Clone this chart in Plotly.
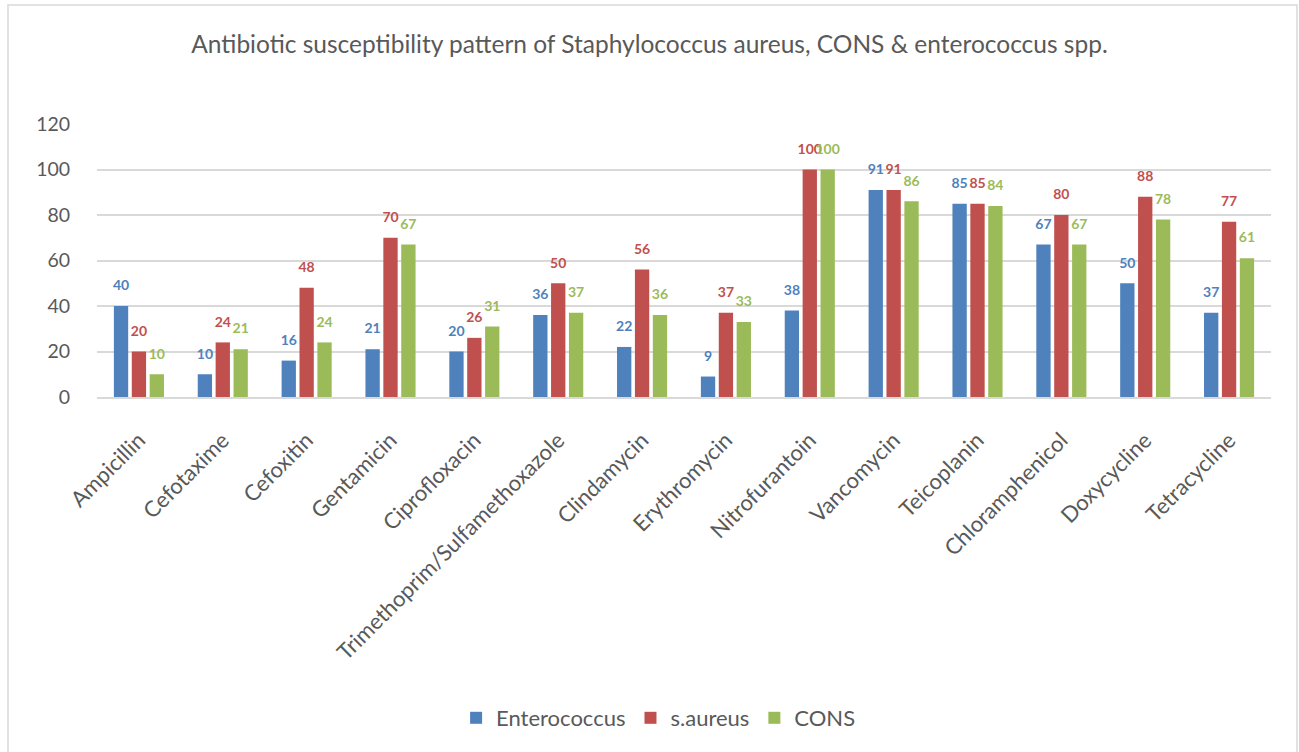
import plotly.graph_objects as go

categories = ["Ampicillin", "Cefotaxime", "Cefoxitin", "Gentamicin", "Ciprofloxacin",
              "Trimethoprim/Sulfamethoxazole", "Clindamycin", "Erythromycin", "Nitrofurantoin",
              "Vancomycin", "Teicoplanin", "Chloramphenicol", "Doxycycline", "Tetracycline"]
enterococcus = [40, 10, 16, 21, 20, 36, 22, 9, 38, 91, 85, 67, 50, 37]
s_aureus = [20, 24, 48, 70, 26, 50, 56, 37, 100, 91, 85, 80, 88, 77]
cons = [10, 21, 24, 67, 31, 37, 36, 33, 100, 86, 84, 67, 78, 61]

series = [("Enterococcus", enterococcus, "#4F81BD"),
          ("s.aureus", s_aureus, "#C0504D"),
          ("CONS", cons, "#9BBB59")]

W, H = 1299, 752
L, R, T, B = 97, 28, 124, 355
FONT = "Lato"
TXT = "#595959"
GAP = 0.36

fig = go.Figure()
for name, vals, col in series:
    fig.add_trace(go.Bar(
        name=name, x=categories, y=vals, marker_color=col, marker_line_width=0,
        legendgroup=name,
    ))
for name, vals, col in series:
    fig.add_trace(go.Scatter(
        name=name, x=categories, y=vals, mode="markers+text", text=vals,
        textposition="top center", cliponaxis=False, showlegend=False,
        legendgroup=name, hoverinfo="skip",
        marker=dict(size=18, opacity=0, color=col),
        textfont=dict(family=FONT, size=14, color=col, weight="bold"),
    ))

pw, ph = W - L - R, H - T - B
x0 = (8 - L) / pw
x1 = (1297 - L) / pw
y1 = (H - B - 5) / ph
y0 = (H - B - 800) / ph

fig.add_shape(type="rect", xref="paper", yref="paper", x0=x0, x1=x1, y0=y0, y1=y1,
              line=dict(color="#d9d9d9", width=1.5), fillcolor="rgba(0,0,0,0)", layer="below")

fig.update_layout(
    width=W, height=H,
    margin=dict(l=L, r=R, t=T, b=B),
    paper_bgcolor="white", plot_bgcolor="white",
    barmode="group", bargap=GAP, bargroupgap=0.2,
    scattermode="group", scattergap=GAP,
    font=dict(family=FONT, color=TXT),
    title=dict(text="Antibiotic susceptibility pattern of Staphylococcus aureus, CONS & enterococcus spp.",
               x=0.5, xref="container", xanchor="center",
               y=1 - 44 / H, yref="container", yanchor="middle",
               font=dict(family=FONT, size=24.5, color=TXT)),
    legend=dict(orientation="h", xref="container", yref="container",
                x=0.507, xanchor="center", y=1 - 718 / H, yanchor="middle",
                font=dict(family=FONT, size=22, color=TXT), traceorder="normal",
                itemwidth=30),
    xaxis=dict(tickangle=-45, tickfont=dict(family=FONT, size=22, color=TXT),
               showline=True, linecolor="#d9d9d9", linewidth=1.5,
               ticks="outside", ticklen=20, tickcolor="rgba(0,0,0,0)", showgrid=False),
    yaxis=dict(range=[0, 120], dtick=20, tickfont=dict(family=FONT, size=19.5, color=TXT),
               showgrid=True, gridcolor="#d9d9d9", gridwidth=1.5, zeroline=False,
               ticks="outside", ticklen=22, tickcolor="rgba(0,0,0,0)"),
)

fig.write_html("out.html")
